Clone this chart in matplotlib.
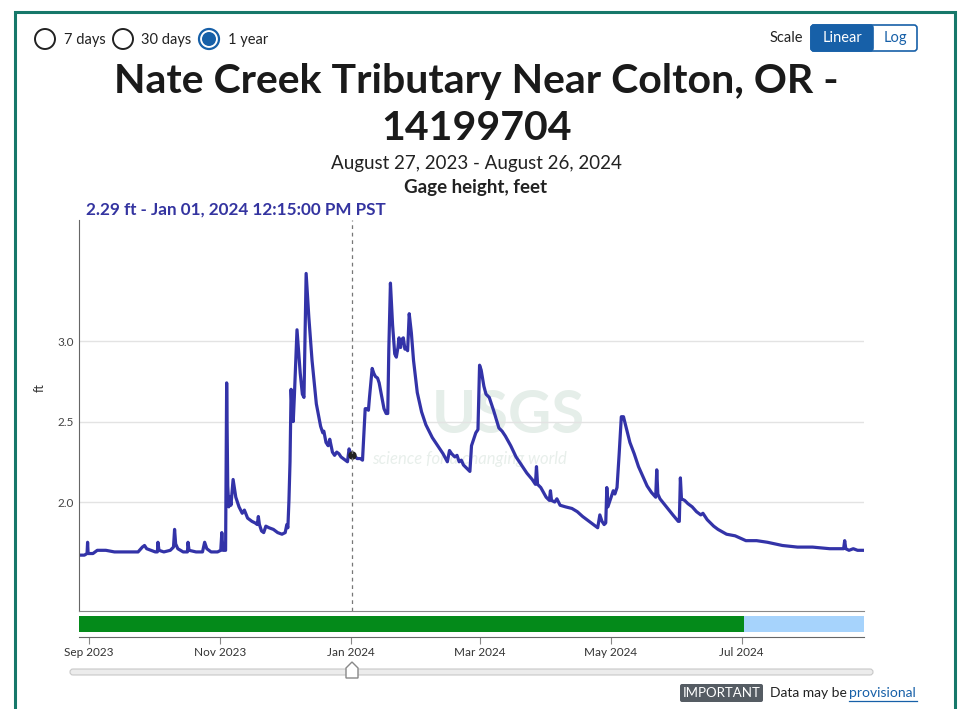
import matplotlib
matplotlib.use("Agg")
import matplotlib.pyplot as plt
import matplotlib.dates as mdates
import matplotlib.patches as mpatches
import pandas as pd

W, H = 961, 709
plt.rcParams['font.family'] = ['Lato', 'DejaVu Sans']

# gage height record
times = [
    "2023-08-27 12:00", "2023-08-30 00:00", "2023-08-31 06:00", "2023-08-31 12:00", "2023-08-31 18:00",
    "2023-09-03 00:00", "2023-09-05 00:00", "2023-09-09 00:00", "2023-09-13 00:00", "2023-09-20 00:00",
    "2023-09-24 00:00", "2023-09-26 00:00", "2023-09-27 00:00", "2023-09-28 00:00", "2023-09-30 00:00",
    "2023-10-02 00:00", "2023-10-03 00:00", "2023-10-03 06:00", "2023-10-03 18:00", "2023-10-06 00:00",
    "2023-10-09 00:00", "2023-10-10 12:00", "2023-10-11 00:00", "2023-10-11 12:00", "2023-10-12 12:00",
    "2023-10-15 00:00", "2023-10-17 00:00", "2023-10-17 06:00", "2023-10-17 18:00", "2023-10-21 00:00",
    "2023-10-24 00:00", "2023-10-25 00:00", "2023-10-26 00:00", "2023-10-28 00:00", "2023-10-31 00:00",
    "2023-11-01 12:00", "2023-11-02 00:00", "2023-11-02 12:00", "2023-11-03 18:00", "2023-11-04 06:00",
    "2023-11-04 18:00", "2023-11-05 06:00", "2023-11-05 18:00", "2023-11-06 06:00", "2023-11-07 06:00",
    "2023-11-08 12:00", "2023-11-10 00:00", "2023-11-11 12:00", "2023-11-12 12:00", "2023-11-14 00:00",
    "2023-11-16 00:00", "2023-11-17 12:00", "2023-11-18 12:00", "2023-11-19 00:00", "2023-11-19 12:00",
    "2023-11-20 12:00", "2023-11-21 12:00", "2023-11-22 12:00", "2023-11-24 00:00", "2023-11-26 00:00",
    "2023-11-28 00:00", "2023-11-30 00:00", "2023-12-01 12:00", "2023-12-02 06:00", "2023-12-02 18:00",
    "2023-12-03 06:00", "2023-12-03 18:00", "2023-12-04 06:00", "2023-12-04 18:00", "2023-12-05 06:00",
    "2023-12-05 18:00", "2023-12-07 00:00", "2023-12-08 12:00", "2023-12-09 12:00", "2023-12-10 06:00",
    "2023-12-11 06:00", "2023-12-12 12:00", "2023-12-14 00:00", "2023-12-16 00:00", "2023-12-18 00:00",
    "2023-12-19 00:00", "2023-12-19 12:00", "2023-12-20 12:00", "2023-12-21 12:00", "2023-12-22 06:00",
    "2023-12-23 12:00", "2023-12-24 12:00", "2023-12-25 12:00", "2023-12-26 12:00", "2023-12-27 12:00",
    "2023-12-28 12:00", "2023-12-29 12:00", "2023-12-30 12:00", "2023-12-31 06:00", "2023-12-31 18:00",
    "2024-01-01 12:15", "2024-01-02 12:00", "2024-01-04 00:00", "2024-01-05 12:00", "2024-01-06 12:00",
    "2024-01-07 06:00", "2024-01-07 18:00", "2024-01-08 12:00", "2024-01-09 06:00", "2024-01-09 18:00",
    "2024-01-11 00:00", "2024-01-11 18:00", "2024-01-12 12:00", "2024-01-13 12:00", "2024-01-14 06:00",
    "2024-01-15 12:00", "2024-01-16 12:00", "2024-01-17 12:00", "2024-01-18 06:00", "2024-01-18 18:00",
    "2024-01-19 12:00", "2024-01-20 12:00", "2024-01-21 12:00", "2024-01-22 06:00", "2024-01-23 00:00",
    "2024-01-23 12:00", "2024-01-24 06:00", "2024-01-24 18:00", "2024-01-25 12:00", "2024-01-26 06:00",
    "2024-01-26 18:00", "2024-01-27 12:00", "2024-01-28 06:00", "2024-01-29 06:00", "2024-01-30 06:00",
    "2024-02-01 00:00", "2024-02-03 00:00", "2024-02-05 00:00", "2024-02-08 00:00", "2024-02-11 00:00",
    "2024-02-13 00:00", "2024-02-15 00:00", "2024-02-16 00:00", "2024-02-17 00:00", "2024-02-18 12:00",
    "2024-02-19 12:00", "2024-02-20 12:00", "2024-02-21 12:00", "2024-02-22 12:00", "2024-02-24 00:00",
    "2024-02-25 12:00", "2024-02-26 06:00", "2024-02-26 18:00", "2024-02-27 12:00", "2024-02-28 06:00",
    "2024-02-29 06:00", "2024-03-01 00:00", "2024-03-01 18:00", "2024-03-03 00:00", "2024-03-04 00:00",
    "2024-03-05 12:00", "2024-03-07 12:00", "2024-03-10 00:00", "2024-03-11 12:00", "2024-03-13 00:00",
    "2024-03-15 12:00", "2024-03-18 00:00", "2024-03-20 12:00", "2024-03-23 00:00", "2024-03-25 12:00",
    "2024-03-27 00:00", "2024-03-27 12:00", "2024-03-28 00:00", "2024-03-29 12:00", "2024-04-01 00:00",
    "2024-04-02 12:00", "2024-04-03 00:00", "2024-04-03 12:00", "2024-04-05 00:00", "2024-04-06 00:00",
    "2024-04-07 12:00", "2024-04-10 00:00", "2024-04-13 00:00", "2024-04-15 12:00", "2024-04-18 00:00",
    "2024-04-21 00:00", "2024-04-24 00:00", "2024-04-25 00:00", "2024-04-26 00:00", "2024-04-27 00:00",
    "2024-04-28 00:00", "2024-04-28 18:00", "2024-04-29 06:00", "2024-04-29 18:00", "2024-04-30 12:00",
    "2024-05-01 12:00", "2024-05-02 06:00", "2024-05-03 00:00", "2024-05-04 00:00", "2024-05-05 00:00",
    "2024-05-06 00:00", "2024-05-07 00:00", "2024-05-08 12:00", "2024-05-10 00:00", "2024-05-12 00:00",
    "2024-05-14 00:00", "2024-05-16 00:00", "2024-05-18 00:00", "2024-05-20 00:00", "2024-05-22 00:00",
    "2024-05-22 12:00", "2024-05-23 00:00", "2024-05-24 00:00", "2024-05-27 00:00", "2024-05-30 00:00",
    "2024-06-01 12:00", "2024-06-02 00:00", "2024-06-02 12:00", "2024-06-03 00:00", "2024-06-04 12:00",
    "2024-06-06 00:00", "2024-06-08 00:00", "2024-06-10 00:00", "2024-06-12 00:00", "2024-06-13 00:00",
    "2024-06-15 00:00", "2024-06-18 00:00", "2024-06-20 00:00", "2024-06-24 00:00", "2024-06-28 00:00",
    "2024-07-03 00:00", "2024-07-08 00:00", "2024-07-13 00:00", "2024-07-20 00:00", "2024-07-27 00:00",
    "2024-08-03 00:00", "2024-08-11 00:00", "2024-08-17 12:00", "2024-08-18 00:00", "2024-08-18 12:00",
    "2024-08-20 00:00", "2024-08-22 00:00", "2024-08-24 00:00", "2024-08-26 23:45",
]
gage_ft = [
    1.67, 1.67, 1.68, 1.75, 1.68,
    1.68, 1.70, 1.70, 1.69, 1.69,
    1.69, 1.72, 1.73, 1.71, 1.70,
    1.69, 1.69, 1.75, 1.70, 1.69,
    1.70, 1.72, 1.83, 1.74, 1.71,
    1.69, 1.69, 1.75, 1.70, 1.69,
    1.69, 1.75, 1.71, 1.69, 1.69,
    1.70, 1.81, 1.70, 1.70, 2.74,
    2.10, 1.97, 2.03, 1.98, 2.14,
    2.03, 1.97, 1.93, 1.95, 1.90,
    1.88, 1.87, 1.86, 1.91, 1.86,
    1.82, 1.81, 1.85, 1.84, 1.83,
    1.81, 1.80, 1.81, 1.86, 1.84,
    2.01, 2.25, 2.70, 2.55, 2.50,
    2.65, 3.07, 2.80, 2.67, 2.65,
    3.42, 3.15, 2.88, 2.61, 2.47,
    2.43, 2.44, 2.37, 2.35, 2.39,
    2.31, 2.29, 2.31, 2.30, 2.28,
    2.27, 2.26, 2.25, 2.33, 2.31,
    2.29, 2.29, 2.27, 2.27, 2.26,
    2.45, 2.58, 2.58, 2.57, 2.65,
    2.83, 2.80, 2.78, 2.77, 2.74,
    2.65, 2.58, 2.55, 2.55, 2.95,
    3.36, 3.10, 2.92, 2.90, 2.96,
    3.02, 2.96, 3.01, 3.02, 2.95,
    2.96, 2.94, 3.17, 3.05, 2.88,
    2.68, 2.56, 2.48, 2.40, 2.34,
    2.30, 2.25, 2.32, 2.30, 2.28,
    2.29, 2.25, 2.26, 2.23, 2.21,
    2.19, 2.35, 2.37, 2.40, 2.43,
    2.45, 2.85, 2.82, 2.72, 2.67,
    2.65, 2.57, 2.46, 2.44, 2.41,
    2.35, 2.28, 2.23, 2.18, 2.14,
    2.11, 2.22, 2.11, 2.09, 2.03,
    2.01, 2.07, 2.01, 2.00, 2.02,
    1.98, 1.97, 1.96, 1.94, 1.91,
    1.88, 1.85, 1.84, 1.92, 1.88,
    1.86, 1.87, 2.09, 1.97, 2.00,
    2.04, 2.07, 2.05, 2.09, 2.30,
    2.53, 2.53, 2.45, 2.37, 2.30,
    2.22, 2.16, 2.10, 2.06, 2.03,
    2.20, 2.05, 2.02, 1.97, 1.92,
    1.88, 1.88, 2.15, 2.02, 2.01,
    1.99, 1.97, 1.94, 1.92, 1.93,
    1.89, 1.85, 1.83, 1.80, 1.79,
    1.76, 1.76, 1.75, 1.73, 1.72,
    1.72, 1.71, 1.71, 1.76, 1.71,
    1.70, 1.71, 1.70, 1.70,
]
y_ticks = [2.0, 2.5, 3.0]
month_ticks = ["2023-09-01", "2023-11-01", "2024-01-01", "2024-03-01", "2024-05-01", "2024-07-01"]
approved_end = "2024-07-02"
hover_time = "2024-01-01 12:15"
hover_value = 2.29

t = pd.to_datetime(times)
t0, t1 = t[0], t[-1]
line_color = '#3333a8'


def rect(l, top, r, b):
    return [l / W, 1 - b / H, (r - l) / W, (b - top) / H]


fig = plt.figure(figsize=(W / 100, H / 100), dpi=100)

# page overlay in pixel coordinates
page = fig.add_axes([0, 0, 1, 1], zorder=0)
page.set_xlim(0, W)
page.set_ylim(H, 0)
page.axis('off')

page.plot([15, 15, 955, 955], [H + 5, 12, 12, H + 5], color='#16786a', lw=2.2, solid_joinstyle='miter')

for cx in (45, 123):
    page.add_patch(mpatches.Circle((cx, 39), 10, fc='white', ec='#222222', lw=1.4))
page.add_patch(mpatches.Circle((209, 39), 10, fc='white', ec='#1760a8', lw=1.6))
page.add_patch(mpatches.Circle((209, 39), 7, fc='#1760a8', ec='none'))
page.text(64, 40, "7 days", fontsize=10.5, va='center', color='#222222')
page.text(141, 40, "30 days", fontsize=10.5, va='center', color='#222222')
page.text(228, 40, "1 year", fontsize=10.5, va='center', color='#222222')

page.text(803, 38, "Scale", fontsize=10.5, va='center', ha='right', color='#222222')
page.add_patch(mpatches.FancyBboxPatch((811, 25), 106, 26, boxstyle="round,pad=0,rounding_size=3",
                                       fc='white', ec='#1760a8', lw=1.2))
page.add_patch(mpatches.FancyBboxPatch((811, 25), 62, 26, boxstyle="round,pad=0,rounding_size=3",
                                       fc='#1760a8', ec='#1760a8', lw=1.2))
page.text(842, 38, "Linear", fontsize=10.5, va='center', ha='center', color='white')
page.text(895, 38, "Log", fontsize=10.5, va='center', ha='center', color='#1760a8')

page.text(476, 82, "Nate Creek Tributary Near Colton, OR -", fontsize=29.5, fontweight='bold',
          ha='center', va='center', color='#1a1a1a')
page.text(476, 129, "14199704", fontsize=29.5, fontweight='bold', ha='center', va='center', color='#1a1a1a')
page.text(476, 163, "August 27, 2023 - August 26, 2024", fontsize=13.5, ha='center', va='center',
          color='#222222')
page.text(476, 187, "Gage height, feet", fontsize=13.5, fontweight='bold', ha='center', va='center',
          color='#222222')
page.text(86, 210, "2.29 ft - Jan 01, 2024 12:15:00 PM PST", fontsize=12.3, fontweight='bold',
          va='center', color='#3434a0')
page.text(40, 388, "ft", fontsize=9, rotation=90, ha='center', va='center', color='#333333')

# watermark
page.text(432, 416, "USGS", fontsize=43, fontweight='bold', va='center', color='#e5eee9')
page.text(372, 459, "science for a changing world", fontsize=12, style='italic', va='center',
          color='#e8efeb')

# slider and footer
page.add_patch(mpatches.FancyBboxPatch((70, 669), 803, 6, boxstyle="round,pad=0,rounding_size=3",
                                       fc='#ececec', ec='#c8c8c8', lw=0.8))
page.add_patch(mpatches.Polygon([(346, 678), (358, 678), (358, 668), (352, 662), (346, 668)],
                                closed=True, fc='white', ec='#888888', lw=1))
page.add_patch(mpatches.FancyBboxPatch((680, 684), 83, 18, boxstyle="round,pad=0,rounding_size=2",
                                       fc='#555c63', ec='none'))
page.text(721.5, 693, "IMPORTANT", fontsize=9.5, ha='center', va='center', color='white')
page.text(770, 693, "Data may be", fontsize=10, va='center', color='#222222')
page.text(849, 693, "provisional", fontsize=10, va='center', ha='left', color='#1760a8')
page.plot([849, 917], [701, 701], color='#1760a8', lw=0.9)

# main hydrograph
ax = fig.add_axes(rect(79, 220, 864, 611), zorder=2)
ax.patch.set_alpha(0)
ax.plot(t, gage_ft, color=line_color, lw=2.3, solid_joinstyle='round')
ax.plot(pd.to_datetime([hover_time]), [hover_value], 'o', color='#222222', ms=5)
ax.axvline(pd.to_datetime(hover_time), color='#777777', lw=0.9, ls=(0, (3, 3)))
ax.set_xlim(t0, t1)
ax.set_ylim(1.323, 3.752)
ax.set_yticks(y_ticks)
ax.set_yticklabels([f"{v:.1f}" for v in y_ticks])
ax.grid(axis='y', color='#e3e3e3', lw=1)
ax.set_axisbelow(True)
ax.tick_params(axis='y', length=0, pad=4, labelsize=8.5, labelcolor='#444444')
ax.tick_params(axis='x', length=0, labelbottom=False)
for side in ('top', 'right'):
    ax.spines[side].set_visible(False)
ax.spines['left'].set_color('#666666')
ax.spines['bottom'].set_color('#888888')

# approval status strip with date axis
bx = fig.add_axes(rect(79, 616, 864, 637), zorder=2)
bx.patch.set_alpha(0)
ae = pd.to_datetime(approved_end)
bx.axvspan(t0, ae, ymin=0.24, ymax=1.0, color='#048a1a', lw=0)
bx.axvspan(ae, t1, ymin=0.24, ymax=1.0, color='#a6d3fc', lw=0)
bx.set_xlim(t0, t1)
bx.set_ylim(0, 1)
bx.set_yticks([])
bx.set_xticks(pd.to_datetime(month_ticks))
bx.xaxis.set_major_formatter(mdates.DateFormatter('%b %Y'))
bx.tick_params(axis='x', length=5, color='#888888', labelsize=8.5, labelcolor='#333333', pad=2)
for side in ('top', 'right', 'left'):
    bx.spines[side].set_visible(False)
bx.spines['bottom'].set_color('#666666')

fig.savefig("out.png", dpi=100)
